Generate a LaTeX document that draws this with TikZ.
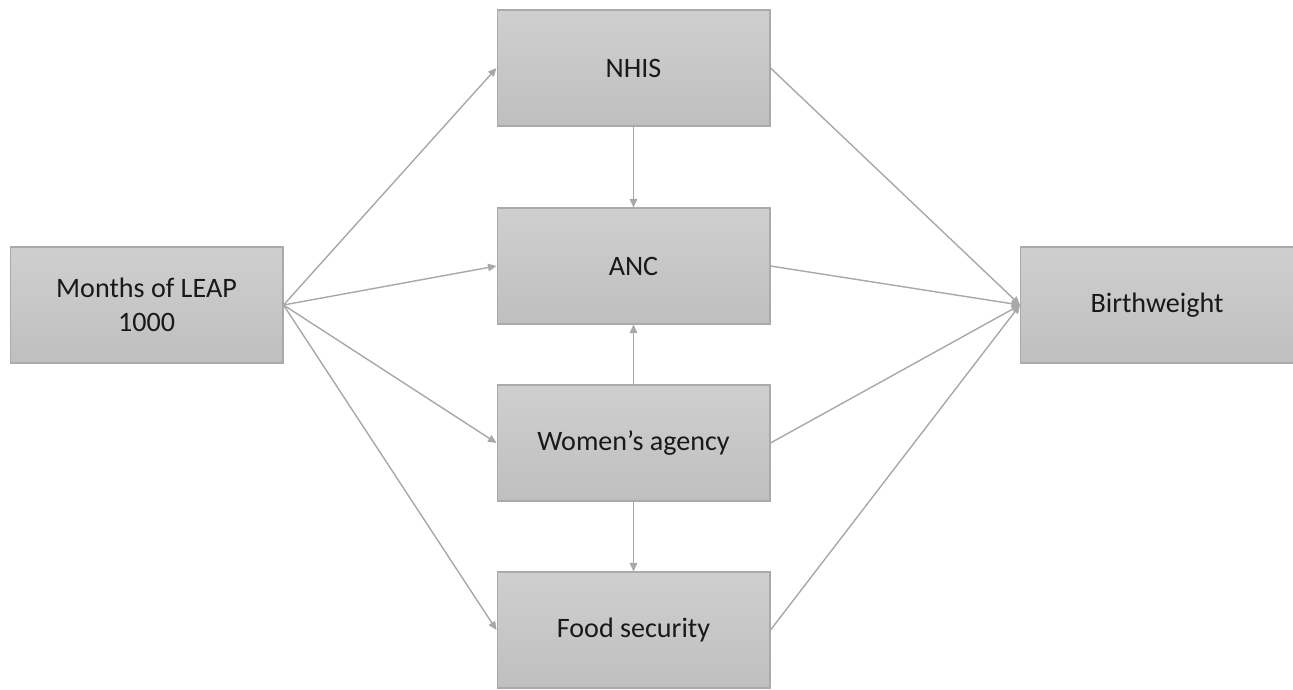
\documentclass[tikz,border=0pt]{standalone}
\usepackage{fontspec}
\setmainfont{Carlito}
\usetikzlibrary{arrows.meta}
\definecolor{boxtop}{RGB}{207,207,207}
\definecolor{boxbot}{RGB}{191,191,191}
\definecolor{boxline}{RGB}{170,170,170}
\definecolor{arrowgray}{RGB}{168,168,168}
\tikzset{
  box/.style={draw=boxline, line width=0.6pt, top color=boxtop, bottom color=boxbot,
    minimum width=5.46cm, minimum height=2.32cm, align=center, inner sep=0pt,
    font=\fontsize{16}{19.5}\selectfont, text=black!90},
  link/.style={draw=arrowgray, line width=0.8pt, -{Triangle[length=0.17cm, width=0.15cm]}}
}
\begin{document}
\begin{tikzpicture}[x=0.02cm, y=0.02cm]
	%%%%% START %%%%%
	\useasboundingbox (0, 0) rectangle (1293, -689);
	
	\node[box] (months) at (146.5, -305) {Months of LEAP\\1000};
	\node[box] (nhis) at (633.5, -68) {NHIS};
	\node[box] (anc) at (633.5, -266) {ANC};
	\node[box] (wa) at (633.5, -443) {Women’s agency};
	\node[box] (food) at (633.5, -630) {Food security};
	\node[box] (bw) at (1157, -305) {Birthweight};
	
	% from LEAP
	\draw[link] (months.east) -- (nhis.west);
	\draw[link] (months.east) -- (anc.west);
	\draw[link] (months.east) -- (wa.west);
	\draw[link] (months.east) -- (food.west);
	
	% between the middle boxes
	\draw[link] (nhis.south) -- (anc.north);
	\draw[link] (wa.north) -- (anc.south);
	\draw[link] (wa.south) -- (food.north);
	
	% to birthweight
	\draw[link] (nhis.east) -- (bw.west);
	\draw[link] (anc.east) -- (bw.west);
	\draw[link] (wa.east) -- (bw.west);
	\draw[link] (food.east) -- (bw.west);
	
	%%%%% END %%%%%
\end{tikzpicture}
\end{document}
